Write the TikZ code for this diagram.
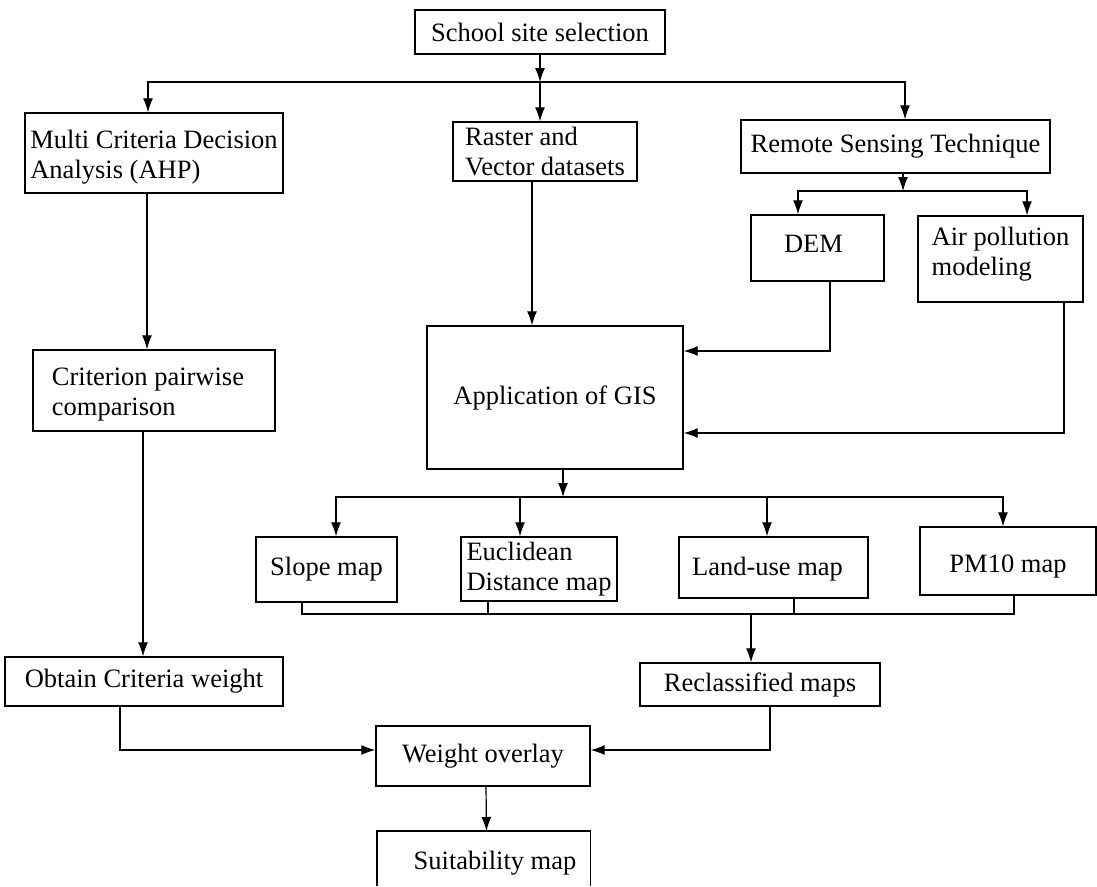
\documentclass[tikz,border=0pt]{standalone}
\usepackage{fontspec}
\setmainfont{Liberation Serif}
\usetikzlibrary{arrows.meta}
\begin{document}
\begin{tikzpicture}[x=1pt,y=-1pt,
  box/.style={draw,line width=1.4pt,rectangle,inner sep=2pt,align=left,
    font=\fontsize{26.5}{30}\selectfont},
  txt/.style={inner sep=0pt,align=left,font=\fontsize{26.5}{30}\selectfont},
  conn/.style={line width=1.2pt},
  arr/.style={conn,-{Latex[length=14pt,width=10pt]}}]
\useasboundingbox (0,0) rectangle (1097,886);
% boxes
\node[box,minimum width=250pt,minimum height=44pt] (school) at (540,32) {School site selection};
\node[box,minimum width=258pt,minimum height=80pt,
  label={[txt,yshift=-4pt]center:Multi Criteria Decision\\Analysis (AHP)}] (mcda) at (154,153) {};
\node[box,minimum width=184pt,minimum height=59pt] (raster) at (545,151.5) {Raster and\\Vector datasets};
\node[box,minimum width=309pt,minimum height=53pt] (rs) at (895.5,146.5) {Remote Sensing Technique};
\node[box,minimum width=133pt,minimum height=66pt,
  label={[txt,yshift=4pt,xshift=-4pt]center:DEM}] (dem) at (817.5,248) {};
\node[box,minimum width=165pt,minimum height=86pt,
  label={[txt,yshift=5pt]center:Air pollution\\modeling}] (air) at (1000.5,259) {};
\node[box,minimum width=256pt,minimum height=143pt] (gis) at (555,397.5) {Application of GIS};
\node[box,minimum width=242pt,minimum height=81pt,
  label={[txt,yshift=-4pt,xshift=-6pt]center:Criterion pairwise\\comparison}] (crit) at (154,390.5) {};
\node[box,minimum width=278pt,minimum height=49pt] (obtain) at (144,681.5) {Obtain Criteria weight};
\node[box,minimum width=141pt,minimum height=65pt] (slope) at (326.5,569.5) {Slope map};
\node[box,minimum width=156pt,minimum height=64pt] (euc) at (539,569) {Euclidean\\Distance map};
\node[box,minimum width=189pt,minimum height=61pt,
  label={[txt,yshift=-2pt,xshift=-6pt]center:Land-use map}] (land) at (773.5,567.5) {};
\node[box,minimum width=176pt,minimum height=68pt,
  label={[txt,yshift=-6pt]center:PM10 map}] (pm10) at (1008,561) {};
\node[box,minimum width=240pt,minimum height=43pt] (reclass) at (760,684.5) {Reclassified maps};
\node[box,minimum width=214pt,minimum height=60pt] (weight) at (483,756) {Weight overlay};
\node[minimum width=213pt,minimum height=55pt,inner sep=0pt,anchor=north] (suit) at (483.5,831) {};
\draw[line width=1.4pt] (suit.south west) -- (suit.north west) -- (suit.north east) -- (suit.south east);
\node[txt] (suittext) at (495,863) {Suitability map};
% junctions
\coordinate (j1) at (540,82);
\coordinate (j2) at (903,191);
\coordinate (j3) at (563,497);
\coordinate (j4) at (751,614);
% connectors
\draw[arr] (school.south) -- (j1);
\draw[arr] (j1) -- (j1 |- raster.north);
\draw[arr] (j1) -| ([xshift=-6pt]mcda.north);
\draw[arr] (j1) -| ([xshift=9.5pt]rs.north);
\draw[arr] (rs.south -| j2) -- (j2);
\draw[arr] (j2) -| ([xshift=-19.5pt]dem.north);
\draw[arr] (j2) -| ([xshift=26.5pt]air.north);
\draw[arr] ([xshift=12.5pt]dem.south) |- ([yshift=46.5pt]gis.east);
\draw[arr] ([xshift=63.5pt]air.south) |- ([yshift=-35.5pt]gis.east);
\draw[arr] ([xshift=-13pt]raster.south) -- ([xshift=-13pt]raster.south |- gis.north);
\draw[arr] ([xshift=-7pt]mcda.south) -- ([xshift=-7pt]crit.north);
\draw[arr] ([xshift=-11pt]crit.south) -- ([xshift=-11pt]crit.south |- obtain.north);
\draw[arr] (gis.south -| j3) -- (j3);
\draw[arr] (j3) -| ([xshift=9.5pt]slope.north);
\draw[arr] (j3) -| ([xshift=-19pt]euc.north);
\draw[arr] (j3) -| ([xshift=-6.5pt]land.north);
\draw[arr] (j3) -| ([xshift=-5pt]pm10.north);
\draw[conn] ([xshift=-24.5pt]slope.south) |- ([xshift=6pt]pm10.south |- j4) -- ([xshift=6pt]pm10.south);
\draw[conn] ([xshift=-51pt]euc.south) -- ([xshift=-51pt]euc.south |- j4);
\draw[conn] ([xshift=20.5pt]land.south) -- ([xshift=20.5pt]land.south |- j4);
\draw[arr] (j4) -- (j4 |- reclass.north);
\draw[arr] ([xshift=-24pt]obtain.south) |- ([yshift=6pt]weight.west);
\draw[arr] ([xshift=10pt]reclass.south) |- ([yshift=6pt]weight.east);
\draw[arr] ([xshift=3pt]weight.south) -- ([xshift=3pt]suit.north);
\end{tikzpicture}
\end{document}
